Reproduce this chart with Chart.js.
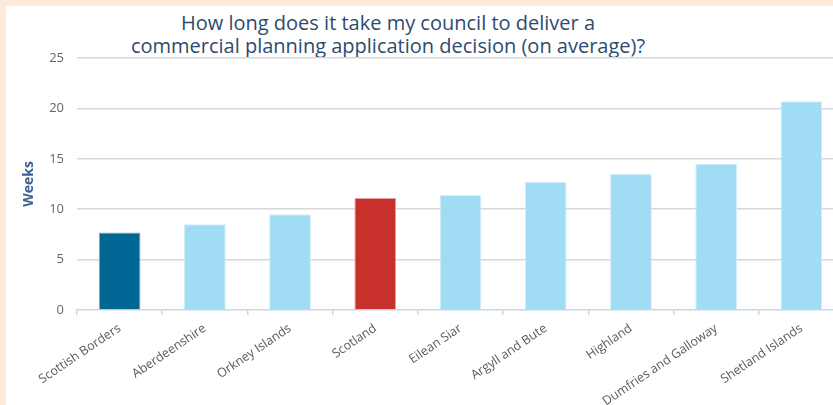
<!DOCTYPE html>
<html>
<head>
<meta charset="utf-8">
<script src="https://cdn.jsdelivr.net/npm/chart.js@4.4.1/dist/chart.umd.min.js"></script>
<style>
  html, body { margin: 0; padding: 0; width: 833px; height: 405px; overflow: hidden; background: #fdeadd; }
  #panel { position: absolute; left: 6px; top: 6px; width: 880px; height: 405px; background: #fff; }
  #title { position: absolute; left: 0; top: 11px; width: 776px; text-align: center;
           font-family: "Open Sans", sans-serif; font-size: 20px; line-height: 23px; color: #2d4b6e; }
  #wrap { position: absolute; left: 6px; top: 6px; width: 838px; height: 399px; }
</style>
</head>
<body>
<div id="panel"></div>
<div id="title">How long does it take my council to deliver a<br>commercial planning application decision (on average)?</div>
<div id="wrap"><canvas id="chart" width="838" height="399"></canvas></div>
<script>
// Average weeks to a commercial planning decision, by council
const councils = ['Scottish Borders', 'Aberdeenshire', 'Orkney Islands', 'Scotland', 'Eilean Siar',
  'Argyll and Bute', 'Highland', 'Dumfries and Galloway', 'Shetland Islands'];
const weeks = [7.7, 8.5, 9.5, 11.1, 11.4, 12.7, 13.5, 14.5, 20.7];
const yTicks = [0, 5, 10, 15, 20, 25];

const fill = councils.map(c => c === 'Scottish Borders' ? '#006693' : c === 'Scotland' ? '#c8302c' : '#a0dcf4');
const edge = councils.map(c => c === 'Scottish Borders' ? '#7fb0c8' : c === 'Scotland' ? '#e6a0a0' : '#d2eefb');

new Chart(document.getElementById('chart'), {
  type: 'bar',
  data: {
    labels: councils,
    datasets: [{
      data: weeks,
      backgroundColor: fill,
      borderColor: edge,
      borderWidth: 1,
      categoryPercentage: 1,
      barPercentage: 0.49
    }]
  },
  options: {
    responsive: false,
    animation: false,
    devicePixelRatio: 1,
    layout: { padding: { left: 10, right: 0, top: 52, bottom: 0 } },
    plugins: { legend: { display: false }, tooltip: { enabled: false } },
    scales: {
      x: {
        grid: { offset: true, drawOnChartArea: false, drawTicks: true, tickLength: 5, color: '#c9d5e5', lineWidth: 1.5 },
        border: { display: true, color: '#c9d5e5', width: 1.5 },
        ticks: { color: '#5a5a5a', font: { family: 'Open Sans', size: 12.5 }, minRotation: 34, maxRotation: 34, padding: 6, autoSkip: false },
        afterFit: s => { s.height = 95; s.paddingLeft = 0; s.paddingRight = 0; }
      },
      y: {
        min: 0, max: 25,
        afterBuildTicks: s => { s.ticks = yTicks.map(v => ({ value: v })); },
        grid: { drawTicks: false, color: ctx => ctx.tick && ctx.tick.value === 0 ? 'rgba(0,0,0,0)' : '#d8d8d8', lineWidth: 1.5 },
        border: { display: false },
        ticks: { color: '#666', font: { family: 'Open Sans', size: 13 }, padding: 13 },
        title: { display: true, text: 'Weeks', color: '#3b6592', font: { family: 'Open Sans', size: 14, weight: 'bold' }, padding: { top: 5, bottom: 0 } },
        afterFit: s => { s.width = 61; }
      }
    }
  }
});
</script>
</body>
</html>
